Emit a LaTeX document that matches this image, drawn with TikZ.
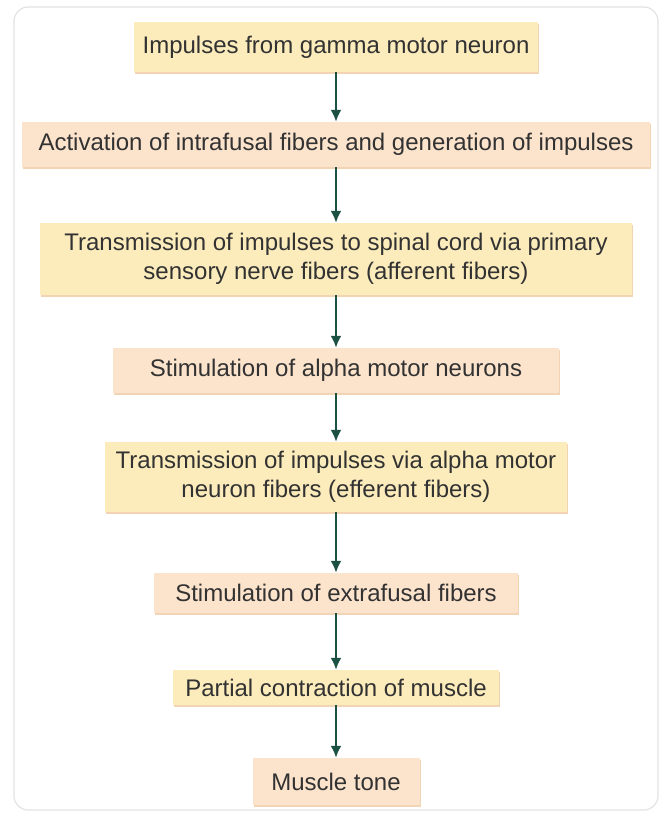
\documentclass[tikz,border=0pt]{standalone}
\usepackage{fontspec}
\setmainfont{Liberation Sans}
\usetikzlibrary{arrows.meta,shadows}
\definecolor{boxyellow}{RGB}{252,236,188}
\definecolor{boxpeach}{RGB}{252,227,204}
\definecolor{arrowgreen}{RGB}{28,80,66}
\definecolor{textgray}{RGB}{50,50,50}
\definecolor{framegray}{RGB}{226,226,226}

\begin{document}
\begin{tikzpicture}[x=1pt, y=-1pt,
    stage/.style = {draw=none, text=textgray, align=center, inner sep=0pt,
        font=\fontsize{24}{29}\selectfont,
        drop shadow={shadow xshift=1.2pt, shadow yshift=-2pt, fill=brown!60!orange, opacity=0.35}},
    ystage/.style = {stage, fill=boxyellow},
    pstage/.style = {stage, fill=boxpeach},
    flow/.style = {draw=arrowgreen, line width=2.6pt, -{Latex[length=12pt, width=11pt]}}]
            \useasboundingbox (0,0) rectangle (665,814);
            % frame
            \path[draw=framegray, line width=1.2pt, rounded corners=14pt](14,7) rectangle (658,810);
            % stages
            \node[ystage, minimum width=404pt, minimum height=50pt] (gamma) at (336,47) {Impulses from gamma motor neuron};
            \node[pstage, minimum width=628pt, minimum height=45pt] (intra) at (336,144.5) {Activation of intrafusal fibers and generation of impulses};
            \node[ystage, minimum width=592pt, minimum height=72pt] (afferent) at (336,259) {Transmission of impulses to spinal cord via primary\\sensory nerve fibers (afferent fibers)};
            \node[pstage, minimum width=446pt, minimum height=45pt] (alpha) at (336,370.5) {Stimulation of alpha motor neurons};
            \node[ystage, minimum width=462pt, minimum height=70pt] (efferent) at (336,477) {Transmission of impulses via alpha motor\\neuron fibers (efferent fibers)};
            \node[pstage, minimum width=364pt, minimum height=40pt] (extra) at (336,593) {Stimulation of extrafusal fibers};
            \node[ystage, minimum width=326pt, minimum height=35pt] (partial) at (336,687.5) {Partial contraction of muscle};
            \node[pstage, minimum width=167pt, minimum height=47pt] (tone) at (336,781.5) {Muscle tone};
            % arrows
            \path[flow](gamma)--(intra);
            \path[flow](intra)--(afferent);
            \path[flow](afferent)--(alpha);
            \path[flow](alpha)--(efferent);
            \path[flow](efferent)--(extra);
            \path[flow](extra)--(partial);
            \path[flow](partial)--(tone);
        \end{tikzpicture}
\end{document}
